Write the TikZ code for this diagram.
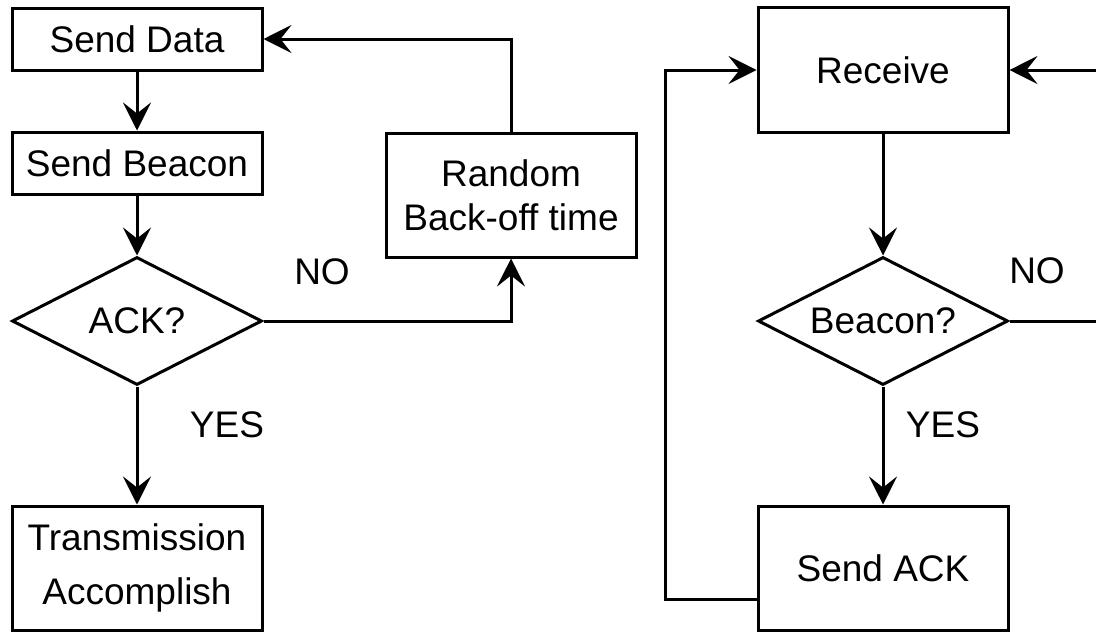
\documentclass[tikz,border=0pt]{standalone}
\usepackage{fontspec}
\setmainfont{Liberation Sans}
\usetikzlibrary{shapes.geometric,arrows.meta,calc}

\begin{document}
\begin{tikzpicture}[x=0.5pt,y=-0.5pt,
  every node/.style={font=\fontsize{18.5}{22}\selectfont},
  box/.style={draw, line width=1.5pt, minimum width=125pt, inner sep=0pt, align=center},
  decision/.style={draw, line width=1.5pt, diamond, aspect=1.95, minimum width=125pt,
    minimum height=64pt, inner sep=0pt},
  flow/.style={line width=1.5pt, -{Stealth[length=14pt, width=14pt, inset=5.5pt]}},
  link/.style={line width=1.5pt},
  lbl/.style={inner sep=0pt}]

\useasboundingbox (0,0) rectangle (1096,632);

% sender side
\node[box, minimum height=31pt] (data) at (137,39) {Send Data};
\node[box, minimum height=31pt] (beacon) at (137,163) {Send Beacon};
\node[decision] (ack) at (137,321) {ACK?};
\node[box, minimum height=62pt, font=\fontsize{18.5}{27}\selectfont] (done) at (137,568) {Transmission\\Accomplish};
\node[box, minimum height=62pt] (backoff) at (511,195) {Random\\Back-off time};

% receiver side
\node[box, minimum height=62.5pt] (recv) at (883,70) {Receive};
\node[decision] (bq) at (883,321) {Beacon?};
\node[box, minimum height=62pt] (sack) at (883,568) {Send ACK};

% labels
\node[lbl] (no1) at (322,272) {NO};
\node[lbl] (yes1) at (227,425) {YES};
\node[lbl] (no2) at (1037,271) {NO};
\node[lbl] (yes2) at (943,425) {YES};

% free ends at the right border
\coordinate (rin) at (1104,70);
\coordinate (rout) at (1104,321);
\coordinate (loopx) at (665,0);

% sender connectors
\draw[flow] (data) -- (beacon);
\draw[flow] (beacon) -- (ack);
\draw[flow] (ack) -- (done);
\draw[flow] (ack.east) -| (backoff.south);
\draw[flow] (backoff.north) |- (data.east);

% receiver connectors
\draw[flow] (recv) -- (bq);
\draw[flow] (bq) -- (sack);
\draw[link] (bq.east) -- (rout);
\draw[flow] (rin) -- (recv.east);
\draw[flow] ([yshift=-15.5pt]sack.west) -| (loopx |- recv.west) -- (recv.west);
\end{tikzpicture}
\end{document}
